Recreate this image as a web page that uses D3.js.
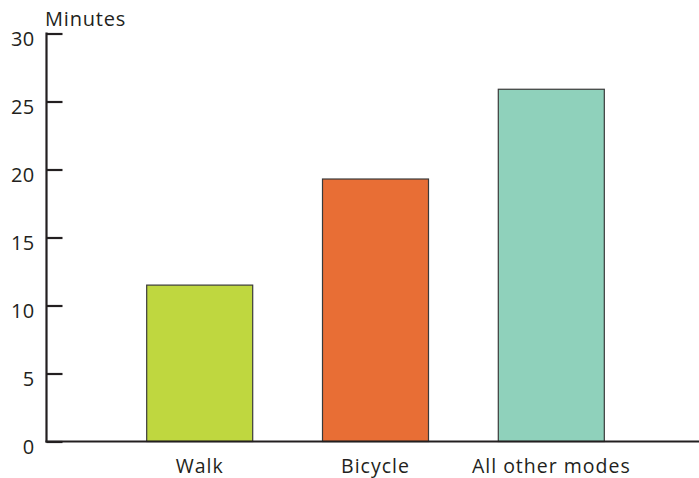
<!DOCTYPE html>
<html>
<head>
<meta charset="utf-8">
<script src="https://cdn.jsdelivr.net/npm/d3@7"></script>
<style>
  html, body { margin: 0; padding: 0; background: #fff; }
  svg text { font-family: "Open Sans", sans-serif; fill: #231f20; }
</style>
</head>
<body>
<svg id="chart" width="699" height="478"></svg>
<script>
const categories = ["Walk", "Bicycle", "All other modes"];
const minutes = [11.5, 19.3, 25.9];
const barColors = ["#bfd73f", "#e86e35", "#8fd1bb"];
const yTicks = [0, 5, 10, 15, 20, 25, 30];
const yLabel = "Minutes";

const svg = d3.select("#chart");
const axisX = 46.5, baseY = 441.5, topY = 33.5;

const y = d3.scaleLinear().domain([0, 30]).range([baseY, topY]);
const x = d3.scaleBand().domain(categories).range([76.9, 674.1]).padding(0.397);

// bars
svg.append("g").selectAll("rect")
  .data(categories)
  .join("rect")
  .attr("x", d => x(d))
  .attr("y", (d, i) => y(minutes[i]))
  .attr("width", x.bandwidth())
  .attr("height", (d, i) => baseY - y(minutes[i]))
  .attr("fill", (d, i) => barColors[i])
  .attr("stroke", "#3a3a3a")
  .attr("stroke-width", 1.2);

// y axis
const yAxis = d3.axisLeft(y).tickValues(yTicks).tickSizeInner(-16).tickSizeOuter(0).tickPadding(12);
const gy = svg.append("g").attr("transform", `translate(${axisX},0)`).call(yAxis);
gy.select(".domain").remove();
gy.selectAll(".tick line").attr("stroke", "#231f20").attr("stroke-width", 2.2);
gy.selectAll(".tick text")
  .attr("font-size", 20)
  .attr("font-family", "Open Sans, sans-serif")
  .attr("fill", "#231f20")
  .attr("dy", 12.3)
  .style("letter-spacing", "0.3px");

// axis lines
svg.append("line").attr("x1", axisX).attr("x2", axisX).attr("y1", topY - 1).attr("y2", baseY + 1)
  .attr("stroke", "#231f20").attr("stroke-width", 2.2);
svg.append("line").attr("x1", axisX - 1).attr("x2", 699).attr("y1", baseY).attr("y2", baseY)
  .attr("stroke", "#231f20").attr("stroke-width", 2.2);

// x labels
const xAxis = d3.axisBottom(x).tickSize(0).tickPadding(0);
const gx = svg.append("g").attr("transform", `translate(0,${baseY})`).call(xAxis);
gx.select(".domain").remove();
gx.selectAll(".tick text")
  .attr("font-size", 19.5)
  .attr("font-family", "Open Sans, sans-serif")
  .attr("fill", "#231f20")
  .attr("y", 31.7)
  .attr("dy", 0)
  .style("letter-spacing", "1px");

// y label
svg.append("text")
  .attr("x", 45)
  .attr("y", 26)
  .attr("font-size", 20)
  .style("letter-spacing", "0.8px")
  .text(yLabel);
</script>
</body>
</html>
